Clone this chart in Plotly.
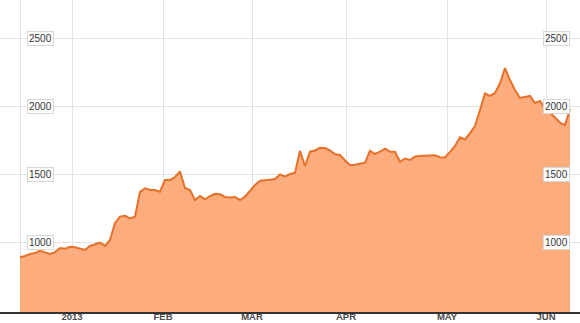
import plotly.graph_objects as go

# Session index (one step per sampled session) and closing values
values = [
    888, 897, 912, 919, 936, 921, 912, 926, 956, 951,
    965, 961, 951, 941, 971, 985, 995, 971, 1015, 1140,
    1187, 1193, 1174, 1186, 1368, 1395, 1382, 1382, 1370, 1456,
    1456, 1478, 1518, 1397, 1382, 1309, 1338, 1314, 1338, 1354,
    1351, 1331, 1327, 1331, 1309, 1333, 1377, 1419, 1451, 1452,
    1458, 1463, 1496, 1480, 1500, 1510, 1671, 1559, 1664, 1673,
    1693, 1691, 1674, 1645, 1640, 1599, 1566, 1568, 1577, 1583,
    1671, 1647, 1664, 1686, 1664, 1664, 1590, 1614, 1603, 1629,
    1632, 1632, 1632, 1637, 1624, 1621, 1662, 1706, 1770, 1754,
    1801, 1853, 1971, 2092, 2074, 2096, 2167, 2279, 2191, 2118,
    2059, 2066, 2074, 2022, 2037, 1985, 1952, 1915, 1877, 1860,
    1976,
]
sessions = list(range(len(values)))

month_ticks = [0, 10.4, 28.6, 46.4, 65.2, 85.4, 105.2]
month_labels = ["", "2013", "FEB", "MAR", "APR", "MAY", "JUN"]

y_ticks = [1000, 1500, 2000, 2500]
y_labels = ["1000", "1500", "2000", "2500"]

fig = go.Figure()
fig.add_trace(go.Scatter(
    x=sessions, y=values, mode="lines", fill="tozeroy",
    line=dict(color="#E5712B", width=2),
    fillcolor="rgba(253,157,102,0.85)",
    hoverinfo="skip",
))

for yv, lab in zip(y_ticks, y_labels):
    for xp in (40 / 580, 556 / 580):
        fig.add_annotation(
            x=xp, xref="paper", y=yv, yref="y", text=lab, showarrow=False,
            font=dict(family="Liberation Sans, Arial", size=10, color="#333333"),
            bgcolor="white", bordercolor="#d6d6d6", borderwidth=1, borderpad=1,
            xanchor="center", yanchor="middle",
        )

fig.update_layout(
    width=580, height=323,
    margin=dict(l=0, r=0, t=0, b=11),
    paper_bgcolor="white", plot_bgcolor="white",
    showlegend=False,
    xaxis=dict(
        range=[-4, 112], tickmode="array", tickvals=month_ticks, ticktext=month_labels,
        showgrid=True, gridcolor="#e2e2e2", gridwidth=1,
        showline=True, linecolor="#333333", linewidth=1.5,
        ticks="", zeroline=False, ticklabelstandoff=-5, automargin=False,
        tickfont=dict(family="Liberation Sans, Arial", size=9.5, color="#4a4a4a", weight="bold"),
    ),
    yaxis=dict(
        range=[485.3, 2779.4], tickmode="array", tickvals=y_ticks,
        showticklabels=False, showgrid=True, gridcolor="#e2e2e2", gridwidth=1,
        zeroline=False, showline=False, automargin=False,
    ),
)

fig.write_html("out.html")
